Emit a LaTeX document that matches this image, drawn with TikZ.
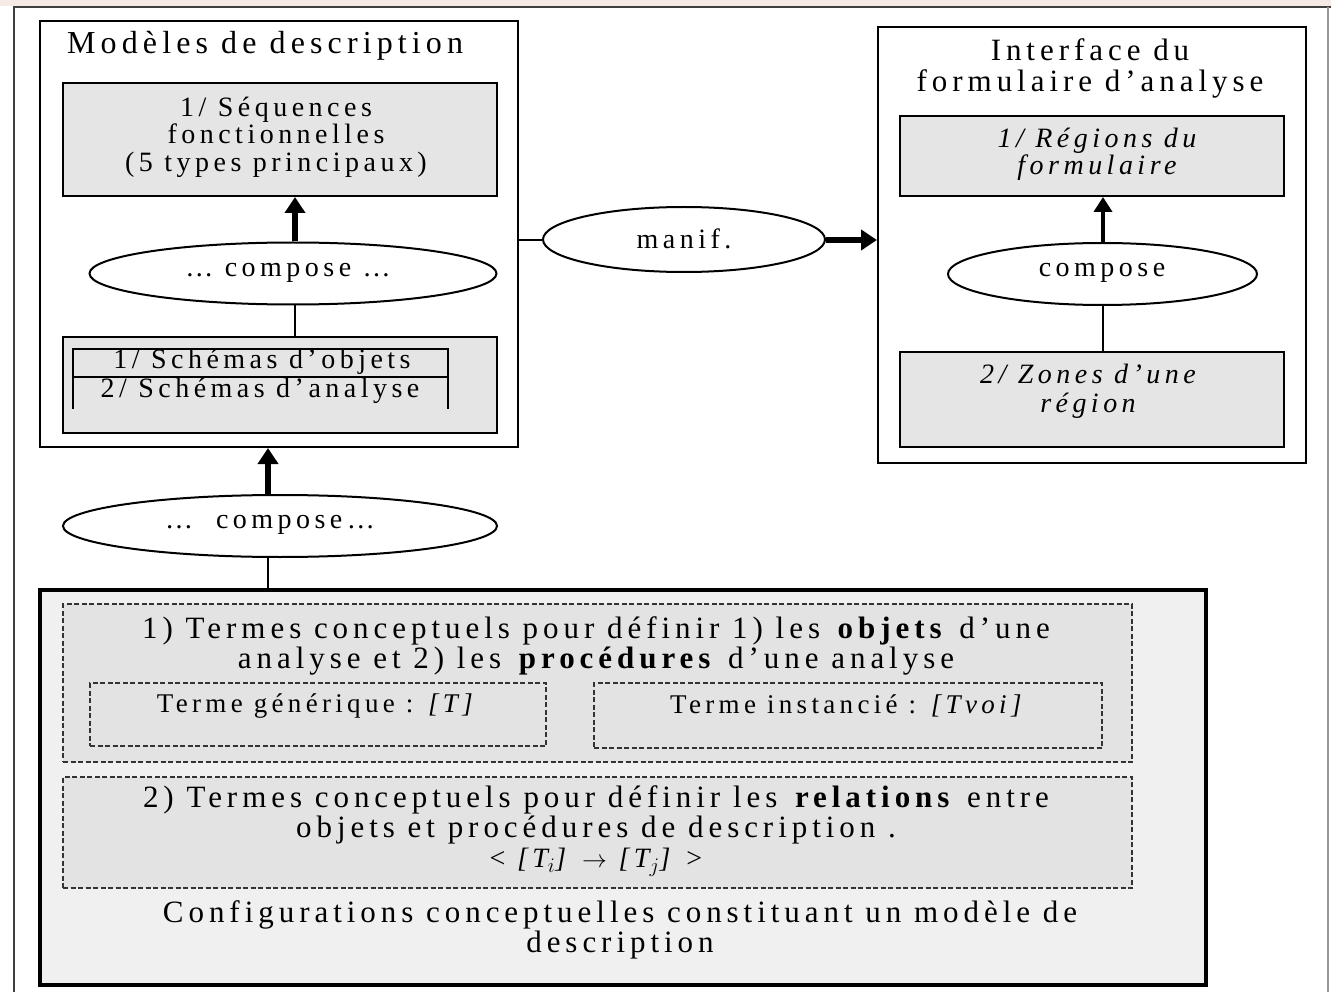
\documentclass[tikz,border=0pt]{standalone}
\usepackage{fontspec}
\setmainfont{Liberation Serif}[LetterSpace=16]
\usetikzlibrary{arrows.meta,shapes.geometric}
\definecolor{pinkstrip}{HTML}{F6EAE5}
\tikzset{
  frame/.style={draw=black, line width=2pt, inner sep=0pt},
  shadebox/.style={frame, fill=black!10},
  ell/.style={ellipse, draw=black, line width=2pt, fill=white, inner sep=0pt},
  dbox/.style={draw=black!80, line width=1.5pt, dash pattern=on 5pt off 2.5pt, fill=black!11, inner sep=0pt},
  fat/.style={line width=6pt, -{Triangle[width=20pt,length=16pt]}},
  mid/.style={line width=4pt, -{Triangle[width=18pt,length=15pt]}},
  thin/.style={line width=2pt},
  lbl/.style={inner sep=0pt, align=center, font=\fontsize{28}{28}\selectfont},
  big/.style={inner sep=0pt, align=center, font=\fontsize{31}{30}\selectfont},
}
\begin{document}
\begin{tikzpicture}[x=1pt,y=-1pt]
\useasboundingbox (0,0) rectangle (1331,992);
\clip (0,0) rectangle (1331,992);
\fill[white] (0,0) rectangle (1331,992);
\fill[pinkstrip] (0,0) rectangle (1331,6);
% outer frame
\draw[black!75, line width=2pt] (14,1000) -- (14,7) -- (1331,7);
\draw[black!40, line width=1.5pt] (1328,7) -- (1328,1000);

% ---------- left box
\node[frame, minimum width=478, minimum height=426] (models) at (279,234) {};
\node[big, font=\fontsize{32}{32}\selectfont, anchor=west] (modtitle) at (67,46) {Modèles de description};
\node[shadebox, minimum width=434, minimum height=113] (seq) at (280,139.5) {};
\node[lbl, font=\fontsize{28}{27.5}\selectfont] (seqtxt) at (276,137) {1/ Séquences\\fonctionnelles\\(5 types principaux)};
\node[ell, minimum width=407, minimum height=62] (comp1) at (293,273.5) {};
\node[lbl] (comp1txt) at (288,273) {… compose …};
\node[shadebox, minimum width=434, minimum height=96] (schem) at (280,385) {};
\draw[thin] (73,409) -- (73,349) -- (448,349) -- (448,409);
\draw[thin] (73,377) -- (448,377);
\node[lbl] (schem1) at (262,362) {1/ Schémas d’objets};
\node[lbl] (schem2) at (260,391) {2/ Schémas d’analyse};
\draw[fat] (comp1.north -| 295,0) -- (seq.south -| 295,0);
\draw[thin] (comp1.south -| 295,0) -- (schem.north -| 295,0);

% ---------- right box
\node[frame, minimum width=428, minimum height=436] (iface) at (1092,245) {};
\node[big, font=\fontsize{31}{31}\selectfont] (ifacetitle) at (1090,68) {Interface du\\formulaire d’analyse};
\node[shadebox, minimum width=384, minimum height=80] (reg) at (1092,156) {};
\node[lbl, font=\itshape\fontsize{28}{27}\selectfont] (regtxt) at (1097,154) {1/ Régions du\\formulaire};
\node[ell, minimum width=309, minimum height=62] (comp2) at (1102.5,274) {};
\node[lbl] (comp2txt) at (1102,273) {compose};
\node[shadebox, minimum width=384, minimum height=95] (zones) at (1092,399.5) {};
\node[lbl, font=\itshape\fontsize{28}{29}\selectfont] (zonestxt) at (1088,391) {2/ Zones d’une\\région};
\draw[mid] (comp2.north -| 1103,0) -- (reg.south -| 1103,0);
\draw[thin] (comp2.south -| 1103,0) -- (zones.north -| 1103,0);

% ---------- manif
\node[ell, minimum width=282, minimum height=65] (manif) at (684,239.5) {};
\node[lbl] (maniftxt) at (684,239) {manif.};
\draw[thin] (models.east |- 0,240) -- (manif.west |- 0,240);
\draw[fat] (manif.east |- 0,240) -- (iface.west |- 0,240);

% ---------- lower compose
\node[ell, minimum width=434, minimum height=62] (comp3) at (280,526) {};
\node[lbl] (comp3txt) at (270,525) {…\ \ compose…};

% ---------- bottom box
\node[draw=black, line width=4pt, fill=black!6, minimum width=1166, minimum height=395, inner sep=0pt] (conf) at (623,787.5) {};
\draw[fat] (comp3.north -| 268,0) -- (models.south -| 268,0);
\draw[thin] (comp3.south -| 268,0) -- (conf.north -| 268,0);

\node[dbox, minimum width=1069, minimum height=158] (d1) at (597.5,683) {};
\node[big] (d1txt) at (596,646) {1) Termes conceptuels pour définir 1) les \textbf{objets} d’une\\analyse et 2) les \textbf{procédures} d’une analyse};
\node[dbox, minimum width=456, minimum height=63] (gen) at (318,714.5) {};
\node[lbl, font=\fontsize{27}{26}\selectfont] (gentxt) at (317,706) {Terme générique : \textit{[T]}};
\node[dbox, minimum width=508, minimum height=65] (inst) at (848,715.5) {};
\node[lbl, font=\fontsize{27}{26}\selectfont] (insttxt) at (848,706) {Terme instancié : \textit{[Tvoi]}};

\node[dbox, minimum width=1069, minimum height=111] (d2) at (597.5,832.5) {};
\node[big] (d2txt) at (596,831) {2) Termes conceptuels pour définir les \textbf{relations} entre\\objets et procédures de description .\\{\fontsize{28}{26}\selectfont\textless{} \textit{[T$_i$]} $\rightarrow$ \textit{[T$_j$]} \textgreater}};

\node[big] (conftxt) at (620,930) {Configurations conceptuelles constituant un modèle de\\description};
\end{tikzpicture}
\end{document}
